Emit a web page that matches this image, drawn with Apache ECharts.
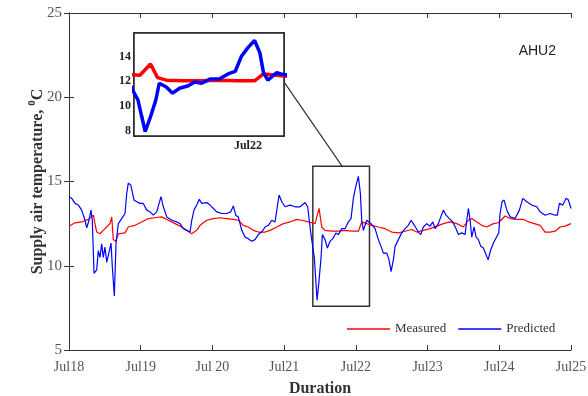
<!DOCTYPE html>
<html>
<head>
<meta charset="utf-8">
<script src="https://cdn.jsdelivr.net/npm/echarts@6/dist/echarts.min.js"></script>
<style>
  html, body { margin: 0; padding: 0; background: #fff; }
  #chart { width: 588px; height: 396px; }
</style>
</head>
<body>
<div id="chart"></div>
<script>
let myChart = echarts.init(document.getElementById('chart'));

// x in days after Jul18 00:00
const dayLabels = ['Jul18', 'Jul19', 'Jul 20', 'Jul21', 'Jul22', 'Jul23', 'Jul24', 'Jul25'];

const measuredDays = [
    0.000, 0.084, 0.177, 0.269, 0.339, 0.386, 0.432, 0.478, 0.526, 0.572,
    0.596, 0.618, 0.651, 0.688, 0.781, 0.827, 0.921, 1.014, 1.106, 1.199,
    1.293, 1.385, 1.478, 1.572, 1.642, 1.711, 1.781, 1.827, 1.921, 2.013,
    2.106, 2.199, 2.292, 2.361, 2.431, 2.501, 2.570, 2.640, 2.734, 2.803,
    2.897, 2.989, 3.082, 3.176, 3.245, 3.338, 3.431, 3.487, 3.524, 3.570,
    3.664, 3.756, 3.849, 3.943, 4.035, 4.082, 4.152, 4.222, 4.314, 4.407,
    4.501, 4.593, 4.686, 4.780, 4.849, 4.941, 5.035, 5.128, 5.220, 5.314,
    5.407, 5.499, 5.569, 5.616, 5.686, 5.756, 5.826, 5.918, 5.987, 6.081,
    6.151, 6.244, 6.341, 6.411, 6.490, 6.569, 6.639, 6.709, 6.778, 6.848,
    6.918, 7.000
];
const measuredTemps = [
    12.35, 12.55, 12.6, 12.75, 13.0, 12.0, 11.9, 12.1, 12.3, 12.5,
    12.9, 11.55, 11.45, 11.9, 11.95, 12.3, 12.4, 12.6, 12.8, 12.85,
    12.9, 12.7, 12.5, 12.3, 12.1, 11.9, 12.1, 12.4, 12.7, 12.8,
    12.85, 12.8, 12.75, 12.7, 12.4, 12.3, 12.1, 12.0, 12.0, 12.1,
    12.3, 12.5, 12.6, 12.75, 12.7, 12.6, 12.5, 13.4, 12.3, 12.1,
    12.05, 12.05, 12.1, 12.05, 12.05, 12.6, 12.5, 12.4, 12.3, 12.2,
    12.0, 11.95, 12.05, 12.15, 12.0, 12.1, 12.2, 12.35, 12.5, 12.6,
    12.5, 12.3, 12.7, 12.8, 12.6, 12.4, 12.3, 12.5, 12.55, 12.95,
    12.8, 12.75, 12.75, 12.6, 12.5, 12.4, 12.0, 12.0, 12.05, 12.3,
    12.35, 12.5
];

const predictedDays = [
    0.000, 0.038, 0.084, 0.130, 0.177, 0.223, 0.247, 0.279, 0.307, 0.325,
    0.349, 0.386, 0.409, 0.432, 0.456, 0.478, 0.502, 0.526, 0.558, 0.586,
    0.604, 0.632, 0.656, 0.688, 0.735, 0.781, 0.805, 0.827, 0.861, 0.888,
    0.907, 0.944, 0.990, 1.036, 1.084, 1.130, 1.176, 1.223, 1.283, 1.315,
    1.363, 1.432, 1.502, 1.548, 1.594, 1.643, 1.688, 1.712, 1.743, 1.781,
    1.817, 1.851, 1.921, 1.967, 2.013, 2.060, 2.130, 2.199, 2.255, 2.292,
    2.325, 2.361, 2.409, 2.455, 2.501, 2.548, 2.594, 2.640, 2.688, 2.734,
    2.780, 2.827, 2.873, 2.905, 2.929, 2.967, 3.013, 3.082, 3.152, 3.222,
    3.291, 3.329, 3.361, 3.393, 3.421, 3.441, 3.459, 3.487, 3.515, 3.533,
    3.570, 3.603, 3.640, 3.686, 3.720, 3.756, 3.803, 3.849, 3.895, 3.933,
    3.965, 3.999, 4.035, 4.063, 4.082, 4.105, 4.128, 4.152, 4.174, 4.212,
    4.268, 4.314, 4.351, 4.384, 4.431, 4.463, 4.491, 4.523, 4.547, 4.593,
    4.640, 4.686, 4.732, 4.770, 4.816, 4.872, 4.905, 4.941, 4.989, 5.035,
    5.073, 5.105, 5.151, 5.184, 5.220, 5.258, 5.304, 5.351, 5.397, 5.430,
    5.477, 5.523, 5.547, 5.569, 5.593, 5.616, 5.649, 5.677, 5.709, 5.742,
    5.778, 5.816, 5.844, 5.881, 5.918, 5.955, 5.993, 6.011, 6.039, 6.067,
    6.105, 6.151, 6.220, 6.280, 6.328, 6.384, 6.453, 6.523, 6.569, 6.639,
    6.709, 6.778, 6.810, 6.838, 6.885, 6.932, 6.964, 7.000
];
const predictedTemps = [
    14.1, 14.0, 13.7, 13.6, 13.3, 12.7, 12.25, 12.7, 13.3, 12.7,
    9.55, 9.75, 10.9, 10.5, 11.3, 10.5, 11.1, 10.2, 10.8, 11.35,
    9.95, 8.2, 11.35, 12.5, 12.8, 13.1, 14.3, 14.9, 14.8, 14.7,
    13.9, 13.8, 13.7, 13.7, 13.3, 13.2, 13.0, 13.2, 14.1, 13.5,
    12.9, 12.7, 12.6, 12.5, 12.2, 12.1, 12.0, 12.7, 13.3, 13.6,
    13.95, 13.7, 13.75, 13.6, 13.4, 13.2, 13.1, 13.1, 13.2, 13.55,
    13.0, 12.9, 12.1, 11.7, 11.6, 11.45, 11.55, 11.85, 12.0, 12.3,
    12.4, 12.7, 12.6, 13.5, 14.2, 13.8, 13.5, 13.6, 13.5, 13.5,
    13.75, 13.5, 12.3, 11.3, 10.5, 9.15, 7.95, 9.15, 10.5, 11.85,
    11.55, 11.05, 11.45, 11.65, 11.95, 11.85, 12.2, 12.2, 12.6, 12.8,
    14.0, 14.7, 15.3, 14.3, 12.7, 12.1, 12.4, 12.7, 12.6, 12.5,
    12.2, 11.55, 11.15, 10.75, 10.75, 10.35, 9.65, 10.35, 11.15, 11.55,
    11.95, 12.2, 12.4, 12.7, 12.4, 12.0, 11.85, 12.3, 12.5, 12.35,
    12.6, 12.2, 12.5, 12.9, 13.3, 13.0, 12.8, 12.6, 12.2, 11.85,
    11.95, 11.85, 12.7, 13.4, 12.7, 11.7, 12.3, 11.7, 11.55, 11.15,
    11.05, 10.65, 10.35, 10.95, 11.35, 11.65, 11.95, 13.1, 13.8, 13.9,
    13.3, 12.9, 12.8, 13.3, 14.0, 13.8, 13.6, 13.5, 13.2, 13.0,
    13.1, 13.0, 13.0, 13.7, 13.6, 14.0, 13.9, 13.4
];

// zoomed window shown in the inset
const zoomDays = [3.40, 4.19];
const zoomTemps = [7.6, 15.9];
const insetTicks = [8, 10, 12, 14];

const pairs = (xs, ys) => xs.map((x, i) => [x, ys[i]]);
const measured = pairs(measuredDays, measuredTemps);
const predicted = pairs(predictedDays, predictedTemps);

const serif = 'Liberation Serif';
const axisColor = '#333';

let option = {
    animation: false,
    backgroundColor: '#fff',
    grid: [
        {left: 69, top: 13, right: 17, bottom: 46, outerBoundsMode: 'none', containLabel: false},
        {left: 134, top: 33, width: 150, height: 103, show: true, outerBoundsMode: 'none', containLabel: false,
            backgroundColor: '#fff', borderColor: '#222', borderWidth: 1.5, z: 5}
    ],
    title: {
        text: 'AHU2', right: 27, top: 39,
        textStyle: {fontFamily: 'Liberation Sans', fontSize: 14, fontWeight: 'normal', color: '#222'}
    },
    legend: {
        left: 342, top: 315,
        itemWidth: 43, itemHeight: 1.5, itemGap: 12,
        data: [
            {name: 'Measured', icon: 'rect', itemStyle: {color: '#ff0000'}},
            {name: 'Predicted', icon: 'rect', itemStyle: {color: '#0000ff'}}
        ],
        textStyle: {fontFamily: serif, fontSize: 13, color: '#333', lineHeight: 18}
    },
    xAxis: [
        {
            gridIndex: 0, type: 'value', min: 0, max: 7, interval: 1,
            name: 'Duration', nameLocation: 'middle', nameGap: 31, nameMoveOverlap: false,
            nameTextStyle: {fontFamily: serif, fontSize: 16, fontWeight: 'bold', color: '#333'},
            axisLine: {lineStyle: {color: axisColor}},
            axisTick: {inside: true, length: 5, lineStyle: {color: axisColor}},
            axisLabel: {
                fontFamily: serif, fontSize: 14, color: '#555', margin: 10,
                formatter: v => dayLabels[Math.round(v)]
            },
            splitLine: {show: false}
        },
        {
            gridIndex: 0, type: 'value', min: 0, max: 7, interval: 1, position: 'top',
            axisLine: {lineStyle: {color: axisColor}},
            axisTick: {inside: true, length: 5, lineStyle: {color: axisColor}},
            axisLabel: {show: false}, splitLine: {show: false}
        },
        {
            gridIndex: 1, type: 'value', min: zoomDays[0], max: zoomDays[1],
            axisLine: {lineStyle: {color: '#222', width: 1.5}},
            axisTick: {inside: true, length: 4, customValues: [4], lineStyle: {color: '#222'}},
            axisLabel: {
                customValues: [4], fontFamily: serif, fontSize: 12, fontWeight: 'bold',
                color: '#222', margin: 4, formatter: v => dayLabels[Math.round(v)]
            },
            splitLine: {show: false}
        },
        {
            gridIndex: 1, type: 'value', min: zoomDays[0], max: zoomDays[1], position: 'top',
            axisLine: {lineStyle: {color: '#222', width: 1.5}},
            axisTick: {inside: true, length: 4, customValues: [4], lineStyle: {color: '#222'}},
            axisLabel: {show: false}, splitLine: {show: false}
        }
    ],
    yAxis: [
        {
            gridIndex: 0, type: 'value', min: 5, max: 25, interval: 5,
            name: '{a|Supply air temperature, }{s|0}{a|C}',
            nameLocation: 'middle', nameGap: 21, nameMoveOverlap: false,
            nameTextStyle: {
                rich: {
                    a: {fontFamily: serif, fontSize: 16, fontWeight: 'bold', color: '#333'},
                    s: {fontFamily: serif, fontSize: 11, fontWeight: 'bold', color: '#333', padding: [0, 0, 10, 0]}
                }
            },
            axisLine: {lineStyle: {color: axisColor}},
            axisTick: {inside: true, length: 5, lineStyle: {color: axisColor}},
            axisLabel: {fontFamily: serif, fontSize: 15, color: '#555', margin: 7},
            splitLine: {show: false}
        },
        {
            gridIndex: 0, type: 'value', min: 5, max: 25, interval: 5, position: 'right',
            axisLine: {show: true, lineStyle: {color: axisColor}},
            axisTick: {show: true, inside: true, length: 5, lineStyle: {color: axisColor}},
            axisLabel: {show: false}, splitLine: {show: false}
        },
        {
            gridIndex: 1, type: 'value', min: zoomTemps[0], max: zoomTemps[1],
            axisLine: {show: true, lineStyle: {color: '#222', width: 1.5}},
            axisTick: {show: true, inside: true, length: 4, customValues: insetTicks, lineStyle: {color: '#222'}},
            axisLabel: {
                customValues: insetTicks, fontFamily: serif, fontSize: 12, fontWeight: 'bold',
                color: '#222', margin: 3
            },
            splitLine: {show: false}
        },
        {
            gridIndex: 1, type: 'value', min: zoomTemps[0], max: zoomTemps[1], position: 'right',
            axisLine: {show: true, lineStyle: {color: '#222', width: 1.5}},
            axisTick: {show: true, inside: true, length: 4, customValues: insetTicks, lineStyle: {color: '#222'}},
            axisLabel: {show: false}, splitLine: {show: false}
        }
    ],
    series: [
        {
            name: 'Measured', type: 'line', xAxisIndex: 0, yAxisIndex: 0,
            data: measured, symbol: 'none',
            lineStyle: {color: '#ff0000', width: 1.2}, itemStyle: {color: '#ff0000'},
            markArea: {
                silent: true,
                itemStyle: {color: 'rgba(0,0,0,0)', borderColor: '#333', borderWidth: 1.5},
                data: [[{coord: [zoomDays[0], zoomTemps[1]]}, {coord: [zoomDays[1], zoomTemps[0]]}]]
            },
            markLine: {
                silent: true, symbol: ['none', 'none'], label: {show: false},
                lineStyle: {color: '#333', width: 1.2, type: 'solid'},
                data: [[{coord: [3.0, 20.9]}, {coord: [3.81, zoomTemps[1]]}]]
            }
        },
        {
            name: 'Predicted', type: 'line', xAxisIndex: 0, yAxisIndex: 0,
            data: predicted, symbol: 'none',
            lineStyle: {color: '#0000ff', width: 1.2}, itemStyle: {color: '#0000ff'}
        },
        {
            name: 'Measured', type: 'line', xAxisIndex: 2, yAxisIndex: 2, z: 6,
            data: measured, symbol: 'none', clip: true,
            lineStyle: {color: '#ff0000', width: 3.5}
        },
        {
            name: 'Predicted', type: 'line', xAxisIndex: 2, yAxisIndex: 2, z: 6,
            data: predicted, symbol: 'none', clip: true,
            lineStyle: {color: '#0000ff', width: 3.5}
        }
    ]
};

myChart.setOption(option);
</script>
</body>
</html>
